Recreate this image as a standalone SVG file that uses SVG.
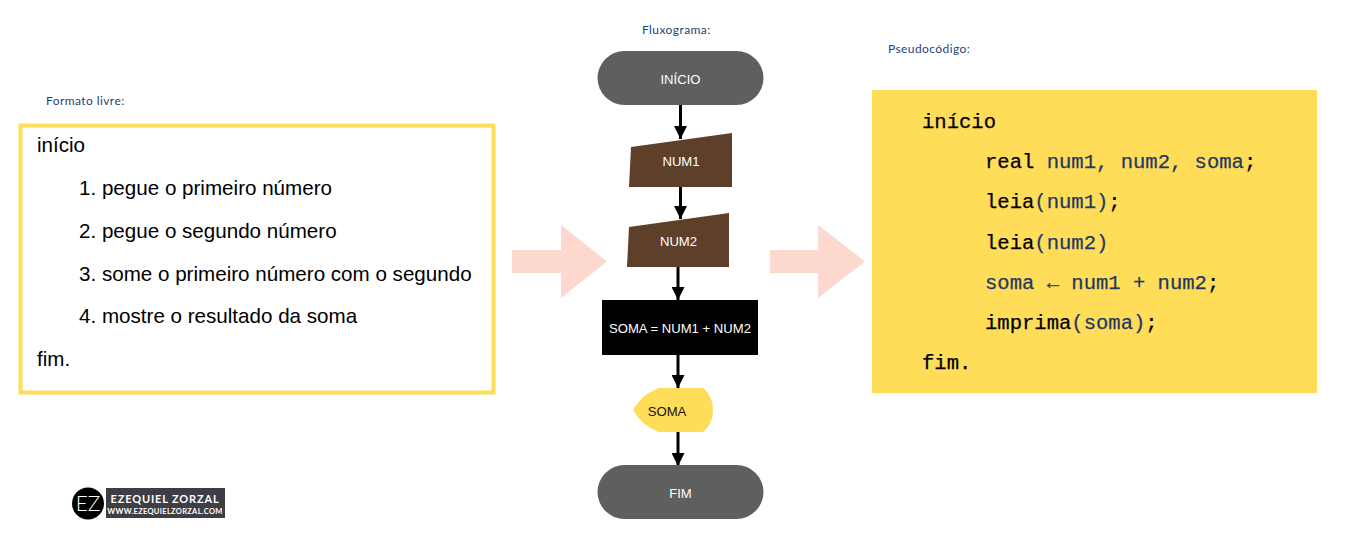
<svg xmlns="http://www.w3.org/2000/svg" width="1352" height="538" viewBox="0 0 1352 538">
<style>
.cap{font-family:"Lato","Noto Sans",sans-serif;font-size:12px;fill:#1f3f7a;letter-spacing:.42px}
.free{font-family:"Liberation Sans",Arial,sans-serif;font-size:20.6px;fill:#000}
.mono{font-family:"Liberation Mono","Courier New",monospace;font-size:20.55px;fill:#000;stroke:#000;stroke-width:.25}
.mono tspan{fill:#1f3864;stroke:#1f3864}
.lbl{font-family:"Liberation Sans",Arial,sans-serif;font-size:13.100px;fill:#fff;text-anchor:middle}
.big{fill:#fcd8cf}
.conn{stroke:#000;stroke-width:3;fill:none;marker-end:url(#ah)}
</style>
<defs>
<marker id="ah" markerUnits="userSpaceOnUse" markerWidth="14" markerHeight="13" refX="13" refY="6.5" orient="auto"><path d="M0 0L13 6.5L0 13z" fill="#000"/></marker>
</defs>
<rect width="1352" height="538" fill="#fff"/>
<text class="cap" x="46" y="105">Formato livre:</text>
<text class="cap" x="642" y="34">Fluxograma:</text>
<text class="cap" x="888" y="53">Pseudocódigo:</text>
<g id="formato-livre">
<rect x="20.500" y="125.500" width="473" height="267" fill="#fff" stroke="#ffdd59" stroke-width="4"/>
<text class="free" x="37" y="152">início</text>
<text class="free" x="79" y="195">1. pegue o primeiro número</text>
<text class="free" x="79" y="238">2. pegue o segundo número</text>
<text class="free" x="79" y="281">3. some o primeiro número com o segundo</text>
<text class="free" x="79" y="323">4. mostre o resultado da soma</text>
<text class="free" x="37" y="366">fim.</text>
</g>
<g id="seta-1"><path class="big" d="M512 250H561V225L607 261.500L561 298V273H512z"/></g>
<g id="seta-2"><path class="big" d="M770 250H818V225L865 261.500L818 298V273H770z"/></g>
<g id="connectors">
<path class="conn" d="M680.500 105V139"/>
<path class="conn" d="M680.500 187V219"/>
<path class="conn" d="M678 267V300"/>
<path class="conn" d="M678 355V388"/>
<path class="conn" d="M678 432V466"/>
</g>
<g id="inicio"><rect x="597.500" y="51" width="166" height="54" rx="27" fill="#5f5f5f"/><text class="lbl" x="680.500" y="84">INÍCIO</text></g>
<g id="num1"><path d="M631 147L732 133V187H629z" fill="#5e3f2a"/><text class="lbl" x="681" y="166">NUM1</text></g>
<g id="num2"><path d="M629 227L729 213V267H627z" fill="#5e3f2a"/><text class="lbl" x="678.500" y="246">NUM2</text></g>
<g id="soma-proc"><rect x="602" y="300" width="156" height="55" fill="#000"/><text class="lbl" x="680" y="333">SOMA = NUM1 + NUM2</text></g>
<g id="soma-out"><path d="M633 410Q642 394 659 388H703C710 394 713 402 713 410C713 418 710 426 703 432H659Q642 426 633 410z" fill="#ffdd59"/><text class="lbl" x="667" y="416" style="fill:#111">SOMA</text></g>
<g id="fim"><rect x="597.500" y="465" width="166" height="54" rx="27" fill="#5f5f5f"/><text class="lbl" x="680.500" y="498">FIM</text></g>
<g id="pseudocodigo">
<rect x="872" y="90" width="445" height="303" fill="#ffdd59"/>
<text class="mono" x="922" y="128">início</text>
<text class="mono" x="985" y="168">real <tspan>num1, num2, soma</tspan>;</text>
<text class="mono" x="985" y="208">leia<tspan>(num1)</tspan>;</text>
<text class="mono" x="985" y="249">leia<tspan>(num2)</tspan></text>
<text class="mono" x="985" y="289">
<tspan>soma ← num1 + num2</tspan>;</text>
<text class="mono" x="985" y="329">imprima<tspan>(soma)</tspan>;</text>
<text class="mono" x="922" y="369">fim.</text>
</g>
<g id="logo">
<circle cx="88" cy="503.500" r="16" fill="#000"/>
<text x="88" y="511" text-anchor="middle" font-family="Lato,sans-serif" font-size="21" font-weight="300" fill="#fff">EZ</text>
<rect x="106" y="488" width="119" height="30" fill="#3e3e44"/>
<text x="165" y="503" text-anchor="middle" font-family="Lato,sans-serif" font-size="11" font-weight="700" letter-spacing=".85" fill="#fff">EZEQUIEL ZORZAL</text>
<text x="165" y="514" text-anchor="middle" font-family="Lato,sans-serif" font-size="7.5" font-weight="700" letter-spacing=".3" fill="#fff">WWW.EZEQUIELZORZAL.COM</text>
</g>
</svg>
